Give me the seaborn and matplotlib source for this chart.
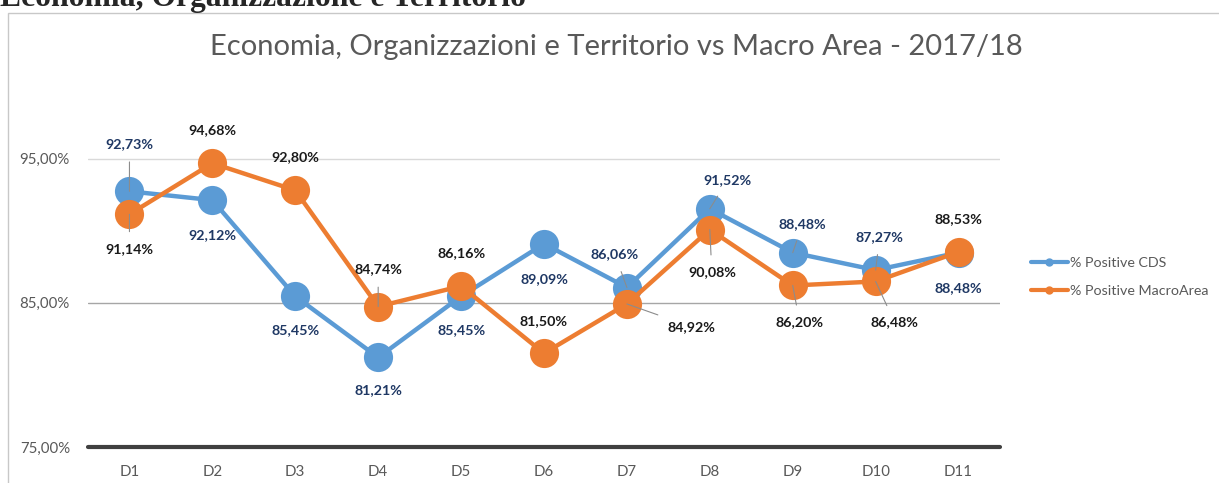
import matplotlib.pyplot as plt
import matplotlib.patches as patches
import pandas as pd
import seaborn as sns

# Data
categories = ["D1", "D2", "D3", "D4", "D5", "D6", "D7", "D8", "D9", "D10", "D11"]
cds = [92.73, 92.12, 85.45, 81.21, 85.45, 89.09, 86.06, 91.52, 88.48, 87.27, 88.48]
macro = [91.14, 94.68, 92.80, 84.74, 86.16, 81.50, 84.92, 90.08, 86.20, 86.48, 88.53]
series_names = ["% Positive CDS", "% Positive MacroArea"]
yticks = [75, 85, 95]

# label offsets in pixels (dx, dy) and whether a leader line is drawn
cds_off = [(0, 47, True), (0, -35, False), (0, -34, False), (0, -33, False), (0, -34, False),
           (0, -35, False), (-12, 33, True), (18, 29, True), (10, 29, True), (4, 33, True), (0, -35, False)]
macro_off = [(0, -35, True), (0, 33, False), (0, 33, False), (0, 37, True), (0, 33, False),
             (0, 32, False), (65, -23, True), (2, -43, True), (7, -37, True), (19, -41, True), (0, 33, False)]

blue = "#5B9BD5"
orange = "#ED7D31"

sns.set_style("white")
plt.rcParams["font.family"] = ["Lato", "DejaVu Sans"]

df = pd.DataFrame({"x": list(range(len(categories))) * 2,
                   "value": cds + macro,
                   "serie": [series_names[0]] * len(cds) + [series_names[1]] * len(macro)})

fig = plt.figure(figsize=(12.19, 4.83), dpi=100)
ax = fig.add_axes([88 / 1219, 36 / 483, 912 / 1219, 360.5 / 483])

# frame of the chart area
fig.patches.append(patches.Rectangle((8 / 1219, -0.05), 1.1, (483 - 13) / 483 + 0.05,
                                     transform=fig.transFigure, fill=False,
                                     edgecolor="#C8C8C8", lw=1))

# header text, partially cut by the top edge
fig.text(0, 1 - 6 / 483, "Economia, Organizzazione e Territorio", family="Liberation Serif",
         weight="bold", fontsize=22.8, va="baseline", ha="left")

ax.axhline(95, color="#D9D9D9", lw=1, zorder=0)
ax.axhline(85, color="#A6A6A6", lw=1, zorder=0)

sns.lineplot(data=df, x="x", y="value", hue="serie", palette=[blue, orange],
             marker="o", markersize=21, markeredgewidth=0, linewidth=3.2,
             ax=ax, legend=False, zorder=3)

ax.axhline(75, color="#404040", lw=3, zorder=4, clip_on=False)

for vals, offs, col in [(cds, cds_off, "#1F3864"), (macro, macro_off, "#1A1A1A")]:
    for i, v in enumerate(vals):
        dx, dy, lead = offs[i]
        txt = f"{v:.2f}%".replace(".", ",")
        ax.annotate(txt, (i, v), xytext=(dx * 0.72, dy * 0.72), textcoords="offset points",
                    ha="center", va="center", fontsize=10.3, weight="bold", color=col,
                    arrowprops=dict(arrowstyle="-", color="#8C8C8C", lw=0.8,
                                    shrinkA=6, shrinkB=0) if lead else None,
                    zorder=5)

ax.set_xlim(-0.5, len(categories) - 0.5)
ax.set_ylim(75, 100)
ax.set_xticks(range(len(categories)))
ax.set_xticklabels(categories)
ax.set_yticks(yticks)
ax.set_yticklabels([f"{t:.2f}%".replace(".", ",") for t in yticks])
ax.tick_params(length=0, labelsize=10.8, labelcolor="#595959", pad=13)
ax.tick_params(axis="y", pad=13)
ax.set_xlabel("")
ax.set_ylabel("")
sns.despine(ax=ax, left=True, bottom=True)

fig.text(616 / 1219, 1 - 47 / 483, "Economia, Organizzazioni e Territorio vs Macro Area - 2017/18",
         ha="center", va="center", fontsize=21, color="#595959")

handles = [plt.Line2D([], [], color=blue, lw=3, marker="o", markersize=5),
           plt.Line2D([], [], color=orange, lw=3, marker="o", markersize=5)]
fig.legend(handles, series_names, loc="center left", bbox_to_anchor=(1018 / 1219, 1 - 277 / 483),
           frameon=False, fontsize=10.3, handlelength=2.6, handletextpad=0.1,
           labelspacing=1.05, labelcolor="#595959")

fig.savefig("out.png", dpi=100)
